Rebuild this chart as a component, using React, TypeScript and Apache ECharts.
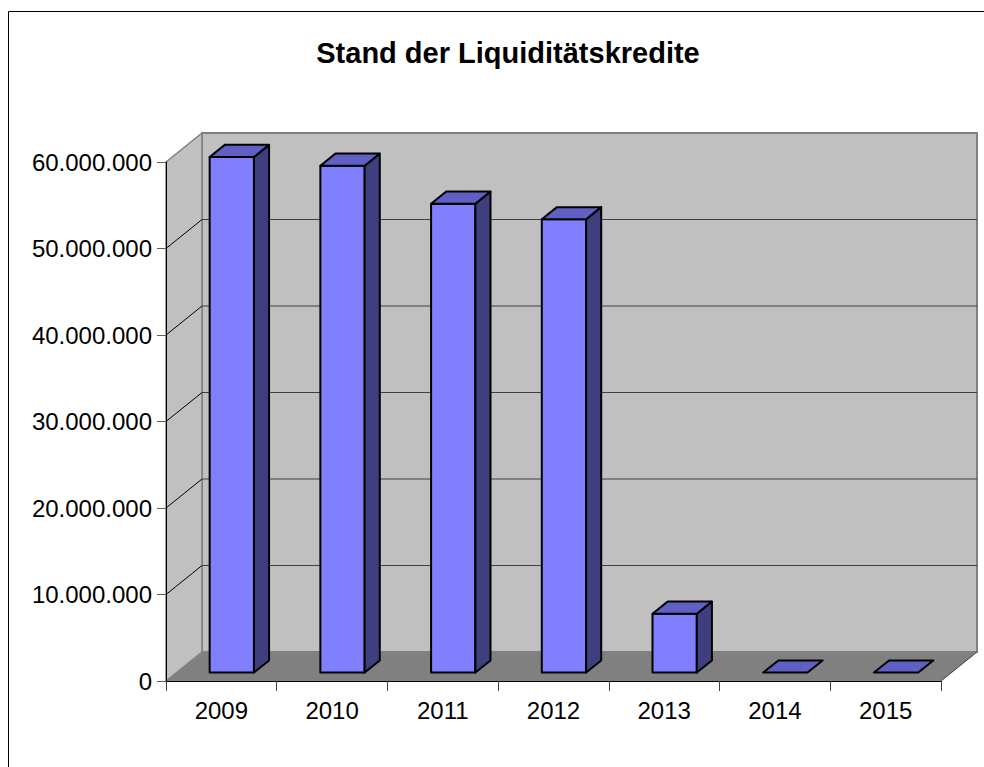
import React, { useEffect, useRef } from "react";
import * as echarts from "echarts";

const TITLE = "Stand der Liquiditätskredite";
const YEARS = ["2009", "2010", "2011", "2012", "2013", "2014", "2015"];
const VALUES = [59600000, 58600000, 54200000, 52400000, 6800000, 0, 0];
const Y_MIN = 0;
const Y_MAX = 60000000;
const Y_STEP = 10000000;
const GRID_VALUES = [10000000, 20000000, 30000000, 40000000, 50000000];

// 3D look (pixels)
const DEPTH_X = 36;
const DEPTH_Y = -29;
const BAR_FRONT = 0.29;
const BAR_BACK = 0.71;
const BAR_WIDTH_RATIO = 0.4;

const FONT = "Arial, 'Liberation Sans', sans-serif";

function fmt(v: number): string {
  return String(Math.round(v)).replace(/\B(?=(\d{3})+(?!\d))/g, ".");
}

export default function App() {
  const ref = useRef<HTMLDivElement>(null);

  useEffect(() => {
    if (!ref.current) return;
    const chart = echarts.init(ref.current, undefined, { renderer: "svg" });

    const wallsRender = (params: any, api: any) => {
      const cs = params.coordSys;
      const x0 = cs.x;
      const x1 = cs.x + cs.width;
      const yT = api.coord([0, Y_MAX])[1];
      const yB = api.coord([0, Y_MIN])[1];
      const dx = DEPTH_X;
      const dy = DEPTH_Y;
      const children: any[] = [];
      children.push({
        type: "polygon",
        shape: { points: [[x0 + dx, yT + dy], [x1 + dx, yT + dy], [x1 + dx, yB + dy], [x0 + dx, yB + dy]] },
        style: { fill: "#C0C0C0", stroke: "#808080", lineWidth: 2 },
      });
      children.push({
        type: "polygon",
        shape: { points: [[x0, yT], [x0 + dx, yT + dy], [x0 + dx, yB + dy], [x0, yB]] },
        style: { fill: "#C0C0C0", stroke: "#808080", lineWidth: 1.5 },
      });
      GRID_VALUES.forEach((v) => {
        const y = api.coord([0, v])[1];
        children.push({
          type: "line",
          shape: { x1: x0 + dx, y1: y + dy, x2: x1 + dx, y2: y + dy },
          style: { stroke: "#404040", lineWidth: 1 },
        });
        children.push({
          type: "line",
          shape: { x1: x0, y1: y, x2: x0 + dx, y2: y + dy },
          style: { stroke: "#000000", lineWidth: 1 },
        });
      });
      children.push({
        type: "polygon",
        shape: { points: [[x0, yB], [x1, yB], [x1 + dx, yB + dy], [x0 + dx, yB + dy]] },
        style: { fill: "#808080" },
      });
      children.push({
        type: "line",
        shape: { x1: x1, y1: yB, x2: x1 + dx, y2: yB + dy },
        style: { stroke: "#404040", lineWidth: 1 },
      });
      return { type: "group", children };
    };

    const barsRender = (params: any, api: any) => {
      const i = api.value(0);
      const v = api.value(1);
      const c = api.coord([i, v]);
      const c0 = api.coord([i, 0]);
      const bw = api.size([1, 0])[0];
      const w = bw * BAR_WIDTH_RATIO;
      const ox = BAR_FRONT * DEPTH_X;
      const oy = BAR_FRONT * DEPTH_Y;
      const ddx = (BAR_BACK - BAR_FRONT) * DEPTH_X;
      const ddy = (BAR_BACK - BAR_FRONT) * DEPTH_Y;
      const xl = c[0] - w / 2 + ox;
      const xr = c[0] + w / 2 + ox;
      const yt = c[1] + oy;
      const yb = c0[1] + oy;
      const stroke = { stroke: "#000000", lineWidth: 2, lineJoin: "round" };
      const children: any[] = [];
      if (yb - yt > 0.5) {
        children.push({
          type: "polygon",
          shape: { points: [[xl, yt], [xr, yt], [xr, yb], [xl, yb]] },
          style: { fill: "#8080FF", ...stroke },
        });
        children.push({
          type: "polygon",
          shape: { points: [[xr, yt], [xr + ddx, yt + ddy], [xr + ddx, yb + ddy], [xr, yb]] },
          style: { fill: "#3F3F80", ...stroke },
        });
      }
      children.push({
        type: "polygon",
        shape: { points: [[xl, yt], [xr, yt], [xr + ddx, yt + ddy], [xl + ddx, yt + ddy]] },
        style: { fill: "#6060C4", ...stroke },
      });
      return { type: "group", children };
    };

    chart.setOption({
      animation: false,
      backgroundColor: "#FFFFFF",
      title: {
        text: TITLE,
        left: 503,
        top: 33,
        textAlign: "center",
        textStyle: { fontFamily: FONT, fontWeight: "bold", fontSize: 29, color: "#000000" },
      },
      graphic: [
        {
          type: "rect",
          shape: { x: 8.5, y: 11.5, width: 1100, height: 900 },
          style: { fill: "none", stroke: "#000000", lineWidth: 1 },
          z: 0,
        },
      ],
      grid: { left: 166, right: 43, top: 162, bottom: 86, containLabel: false },
      xAxis: {
        type: "category",
        data: YEARS,
        boundaryGap: true,
        z: 10,
        axisLine: { show: true, lineStyle: { color: "#000000", width: 1 } },
        axisTick: { show: true, length: 10, inside: false, lineStyle: { color: "#404040" } },
        axisLabel: { fontFamily: FONT, fontSize: 24, color: "#000000", margin: 17 },
        splitLine: { show: false },
      },
      yAxis: {
        type: "value",
        min: Y_MIN,
        max: Y_MAX,
        interval: Y_STEP,
        z: 10,
        axisLine: { show: true, lineStyle: { color: "#000000", width: 1 } },
        axisTick: { show: true, length: 9, lineStyle: { color: "#606060" } },
        axisLabel: { fontFamily: FONT, fontSize: 24, color: "#000000", margin: 14, formatter: (v: number) => fmt(v) },
        splitLine: { show: false },
      },
      series: [
        {
          type: "custom",
          name: "walls",
          z: 1,
          silent: true,
          data: [[0, 0]],
          encode: { x: 0, y: 1 },
          renderItem: wallsRender,
        },
        {
          type: "custom",
          name: "Liquiditätskredite",
          z: 3,
          data: VALUES.map((v, i) => [i, v]),
          encode: { x: 0, y: 1 },
          renderItem: barsRender,
        },
      ],
    });

    return () => chart.dispose();
  }, []);

  return (
    <div
      ref={ref}
      style={{ position: "absolute", left: 0, top: 0, width: 984, height: 767 }}
    />
  );
}
